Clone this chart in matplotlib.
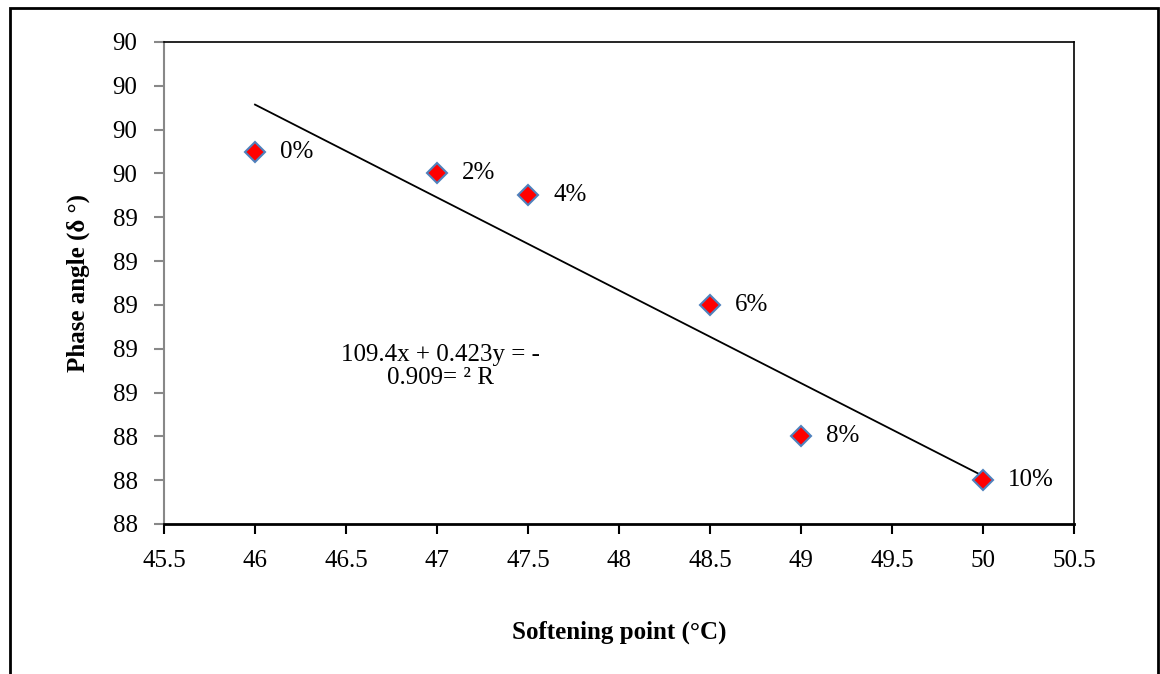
import matplotlib
matplotlib.use("Agg")
import matplotlib.pyplot as plt
import numpy as np
from matplotlib.patches import Rectangle
from matplotlib.ticker import MultipleLocator, FormatStrFormatter

plt.rcParams['font.family'] = ['Liberation Serif', 'DejaVu Serif']

softening = [46, 47, 47.5, 48.5, 49, 50]
phase = [89.7, 89.6, 89.5, 89.0, 88.4, 88.2]
pct_labels = ['0%', '2%', '4%', '6%', '8%', '10%']

fig = plt.figure(figsize=(11.6, 6.74), dpi=100)
ax = fig.add_axes([164/1160, 150/674, 910/1160, 482/674])

# regression line across the data range
k, b = np.polyfit(softening, phase, 1)
xs = np.array([min(softening), max(softening)])
ax.plot(xs, k*xs + b, color='black', lw=1.3, zorder=2)

ax.plot(softening, phase, linestyle='none', marker='D', markersize=10,
        markerfacecolor='red', markeredgecolor='#4F81BD', markeredgewidth=1.5, zorder=3)
for x, y, t in zip(softening, phase, pct_labels):
    ax.annotate(t, (x, y), xytext=(18, 0), textcoords='offset points',
                va='center', ha='left', fontsize=18)

ax.text(47.02, 88.72, '109.4x + 0.423y = -\n0.909= ² R', ha='center', va='center',
        fontsize=18, linespacing=1.05)

ax.set_xlim(45.5, 50.5)
ax.set_ylim(88.0, 90.2)
ax.xaxis.set_major_locator(MultipleLocator(0.5))
ax.yaxis.set_major_locator(MultipleLocator(0.2))
ax.xaxis.set_major_formatter(FormatStrFormatter('%g'))
ax.yaxis.set_major_formatter(FormatStrFormatter('%.0f'))
ax.tick_params(axis='both', labelsize=18, direction='out', length=7)
ax.tick_params(axis='y', color='#888888', width=1.5, pad=12)
ax.tick_params(axis='x', color='black', width=1.5, pad=12)

ax.spines['left'].set_color('#888888')
ax.spines['left'].set_linewidth(1.5)
ax.spines['bottom'].set_linewidth(2)
ax.spines['top'].set_linewidth(1.2)
ax.spines['right'].set_linewidth(1.2)

ax.set_xlabel('Softening point (°C)', fontsize=18, fontweight='bold', labelpad=35)
ax.set_ylabel('Phase angle (δ °)', fontsize=18, fontweight='bold', labelpad=16)

# outer chart frame
fig.patches.append(Rectangle((9.5/1160, -0.05), 1148/1160, 1.05 - 7.5/674,
                             transform=fig.transFigure, fill=False,
                             edgecolor='black', lw=2))

fig.savefig('out.png', dpi=100)
